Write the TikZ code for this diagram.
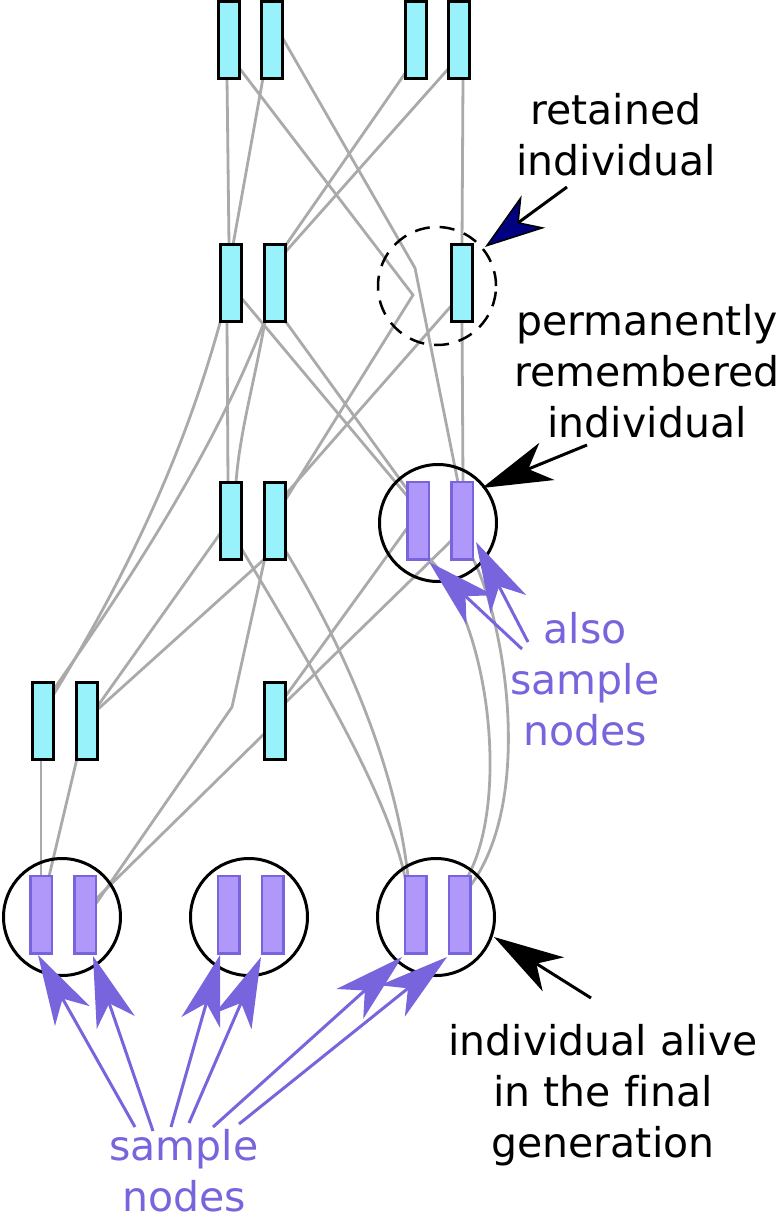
\documentclass[tikz,border=0pt]{standalone}
\usepackage{fontspec}
\setmainfont{DejaVu Sans}[Ligatures=NoCommon]
\usetikzlibrary{arrows.meta,calc}
\definecolor{cyanfill}{HTML}{98F2FC}
\definecolor{purpfill}{HTML}{B098FA}
\definecolor{purpline}{HTML}{7864DC}
\definecolor{grayline}{HTML}{AAAAAA}
\definecolor{navyhead}{HTML}{000080}
\pgfdeclarelayer{bg}
\pgfsetlayers{bg,main}
\begin{document}
\begin{tikzpicture}[x=1pt,y=-1pt,
  chrom/.style={draw=black,line width=3pt,fill=cyanfill,minimum width=21pt,minimum height=77pt,inner sep=0pt,outer sep=0pt},
  schrom/.style={draw=purpline,line width=2.5pt,fill=purpfill,minimum width=21.5pt,minimum height=77.5pt,inner sep=0pt,outer sep=0pt},
  indiv/.style={circle,draw=black,line width=3pt,minimum size=117pt,inner sep=0pt,outer sep=0pt},
  retain/.style={circle,draw=black,line width=2.5pt,dash pattern=on 15pt off 10pt,minimum size=118pt,inner sep=0pt,outer sep=0pt},
  lineage/.style={draw=grayline,line width=2.8pt},
  label/.style={font=\fontsize{41}{51}\selectfont,align=center,anchor=base,inner sep=0pt},
  pointer/.style={draw=black,line width=3pt,-{Stealth[length=70pt,width=40pt,inset=20pt]}},
  sampler/.style={draw=purpline,line width=3pt,-{Stealth[length=70pt,width=40pt,inset=20pt]}},
]
\useasboundingbox (0,0) rectangle (777,1220);

% circles
\node[retain] (ret) at (437,286) {};
\node[indiv] (cp) at (438,523) {};
\node[indiv] (ce1) at (62,917) {};
\node[indiv] (ce2) at (249,917) {};
\node[indiv] (ce3) at (436,917) {};

% row 1
\node[chrom] (a1) at (228.5,40) {};
\node[chrom] (a2) at (272,40) {};
\node[chrom] (a3) at (416,40) {};
\node[chrom] (a4) at (459,40) {};
% row 2
\node[chrom] (b1) at (230.5,283) {};
\node[chrom] (b2) at (274.5,283) {};
\node[chrom] (b3) at (462,283) {};
% row 3
\node[chrom] (c1) at (230.5,520.5) {};
\node[chrom] (c2) at (275,520.5) {};
\node[schrom] (p1) at (418,520.5) {};
\node[schrom] (p2) at (462,520.5) {};
% row 4
\node[chrom] (d1) at (43,720.5) {};
\node[chrom] (d2) at (87,720.5) {};
\node[chrom] (d3) at (275,720.5) {};
% row 5
\node[schrom] (e1) at (41,914.5) {};
\node[schrom] (e2) at (85,914.5) {};
\node[schrom] (e3) at (228.5,914.5) {};
\node[schrom] (e4) at (272.5,914.5) {};
\node[schrom] (e5) at (415.5,914.5) {};
\node[schrom] (e6) at (459.5,914.5) {};

% lineages
\begin{pgfonlayer}{bg}
\draw[lineage] ($(a1)+(-1.5,38)$) -- ($(b1)+(-1.5,-38)$);
\draw[lineage] ($(a2)+(-9,38)$) -- ($(b1)+(2.5,-38)$);
\draw[lineage] ($(a1)+(10,27)$) -- (413,295) -- ($(c2)+(10,-20)$);
\draw[lineage] ($(a2)+(10,-3)$) -- (415,268) -- ($(p2)+(-4,-38)$);
\draw[lineage] ($(a3)+(-10,32)$) -- ($(b2)+(10,-36)$);
\draw[lineage] ($(a4)+(-10,28)$) -- ($(b2)+(10,-30)$);
\draw[lineage] ($(a4)+(4,38)$) -- ($(b3)+(0,-38)$);
\draw[lineage] ($(b1)+(-10,38)$) .. controls (185,450) and (130,570) .. ($(d1)+(10,-25)$);
\draw[lineage] ($(b2)+(-10,38)$) .. controls (215,450) and (130,580) .. ($(d1)+(10,-30)$);
\draw[lineage] ($(b1)+(-3.5,38)$) -- ($(c1)+(-2.5,-38)$);
\draw[lineage] ($(b2)+(-9.5,38)$) .. controls (255,380) and (240,430) .. ($(c1)+(5.5,-38)$);
\draw[lineage] ($(b1)+(10,14)$) -- ($(p1)+(-10,-23.5)$);
\draw[lineage] ($(b2)+(10,37)$) -- ($(p1)+(-10,-30)$);
\draw[lineage] ($(b3)+(-10,22)$) -- ($(c2)+(10,-25.5)$);
\draw[lineage] ($(b3)+(0,38)$) -- ($(p2)+(1,-38)$);
\draw[lineage] ($(c1)+(-10,12.5)$) -- ($(d2)+(10,-13.5)$);
\draw[lineage] ($(c2)+(-10,38)$) -- ($(d2)+(10,-10.5)$);
\draw[lineage] ($(c2)+(-10,37)$) -- (232,707) -- ($(e2)+(10,-9.5)$);
\draw[lineage] ($(p1)+(-10,6.5)$) -- ($(d3)+(10,-23.5)$);
\draw[lineage] ($(p2)+(-10,19.5)$) -- ($(d3)+(10,-17.5)$);
\draw[lineage] ($(d3)+(-10,12.5)$) -- ($(e2)+(10,-14.5)$);
\draw[lineage] ($(c1)+(10,26.5)$) .. controls (320,680) and (390,800) .. ($(e5)+(-10,-34.5)$);
\draw[lineage] ($(c2)+(10,29.5)$) .. controls (340,640) and (395,760) .. ($(e5)+(-7.5,-38)$);
\draw[lineage] ($(p1)+(10,36.5)$) .. controls (490,620) and (510,800) .. ($(e6)+(8,-37.5)$);
\draw[lineage] ($(p2)+(10,36.5)$) .. controls (505,620) and (535,800) .. ($(e6)+(10,-27.5)$);
\draw[lineage] ($(d1)+(-2,38)$) -- ($(e1)+(0,-38)$);
\draw[lineage] ($(d2)+(-10,38)$) -- ($(e1)+(8,-38)$);
\end{pgfonlayer}

% labels
\node[label] (tret) at (616,175) {retained\\individual};
\node[label] (tperm) at (647,437) {permanently\\remembered\\individual};
\node[label,text=purpline] (talso) at (585,745) {also\\sample\\nodes};
\node[label,text=purpline] (tsamp) at (184,1211) {sample\\nodes};
\node[label] (tfinal) at (603,1157) {individual alive\\in the final\\generation};

% pointer start points
\coordinate (sret) at (567,187);
\coordinate (sperm) at (587,445);
\coordinate (sfinal) at (591,998);
\coordinate (salsoa) at (522,649);
\coordinate (salsob) at (528,642);
\coordinate (s1) at (135,1127);
\coordinate (s2) at (153,1131);
\coordinate (s3) at (171,1127);
\coordinate (s4) at (189,1123);
\coordinate (s5) at (213,1127);
\coordinate (s6) at (239,1124);

\draw[draw=black,line width=3pt,-{Stealth[length=60pt,width=40pt,inset=18pt,fill=navyhead,line width=1.5pt]}] (sret) -- ($(ret)+(48,-39)$);
\draw[pointer] (sperm) -- ($(cp)+(44,-35)$);
\draw[pointer] (sfinal) -- ($(ce3)+(58,20)$);
\draw[sampler] (salsoa) -- ($(p1)+(11,41.5)$);
\draw[sampler] (salsob) -- ($(p2)+(14,21.5)$);
\draw[sampler] (s1) -- ($(e1)+(-3,40.5)$);
\draw[sampler] (s2) -- ($(e2)+(8,41.5)$);
\draw[sampler] (s3) -- ($(e3)+(-8.5,40.5)$);
\draw[sampler] (s4) -- ($(e4)+(-11.5,42.5)$);
\draw[sampler] (s5) -- ($(e5)+(-13.5,42.5)$);
\draw[sampler] (s6) -- ($(e6)+(-12.5,42.5)$);
\end{tikzpicture}
\end{document}
